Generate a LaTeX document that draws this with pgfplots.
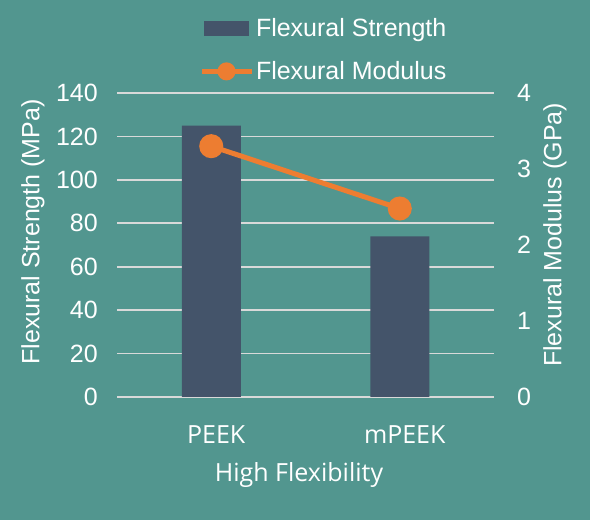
\documentclass[border=0pt]{standalone}
\usepackage{pgfplots}
\pgfplotsset{compat=1.18}
\usepackage{fontspec}
\setmainfont{Liberation Sans}
\newfontfamily\segoe{Open Sans}
\definecolor{bg}{HTML}{52968F}
\definecolor{barc}{HTML}{44546A}
\definecolor{linec}{HTML}{ED7D31}
\definecolor{gridc}{HTML}{D9D9D9}
\newcommand{\fs}{\fontsize{25bp}{30bp}\selectfont}
\begin{document}
\begin{tikzpicture}
\fill[bg] (0bp,0bp) rectangle (590bp,520bp);
\path[use as bounding box] (0bp,0bp) rectangle (590bp,520bp);
\begin{axis}[
  at={(117bp,123bp)}, anchor=south west,
  scale only axis, width=377bp, height=304bp,
  xmin=-0.5, xmax=1.5, ymin=0, ymax=140,
  ytick={0,20,...,140},
  xtick={0,1}, xticklabels={PEEK,mPEEK},
  axis line style={draw=none}, major tick style={draw=none},
  ymajorgrids, grid style={color=gridc, line width=1.6bp},
  ybar, bar width=59bp,
  /pgf/number format/assume math mode=true,
  ticklabel style={font=\fs, text=white},
  yticklabel style={inner sep=0pt, xshift=-19bp},
  xticklabel style={inner sep=0pt, yshift=-24bp, xshift=5bp, font=\segoe\fs},
  ylabel={Flexural Strength (MPa)},
  ylabel style={at={(axis description cs:-0.2228,0.5428)}, anchor=center, font=\fs, text=white, inner sep=0pt},
  xlabel={High Flexibility},
  xlabel style={at={(axis description cs:0.4828,-0.2566)}, anchor=center, font=\segoe\fs, text=white, inner sep=0pt},
]
\addplot[fill=barc, draw=none] coordinates {(0,125) (1,74)};
\end{axis}
\begin{axis}[
  at={(117bp,123bp)}, anchor=south west,
  scale only axis, width=377bp, height=304bp,
  xmin=-0.5, xmax=1.5, ymin=0, ymax=4,
  ytick={0,1,2,3,4},
  axis x line=none, axis y line*=right,
  axis line style={draw=none}, major tick style={draw=none},
  /pgf/number format/assume math mode=true,
  ticklabel style={font=\fs, text=white},
  yticklabel style={inner sep=0pt, xshift=23bp},
  ylabel={Flexural Modulus (GPa)},
  ylabel style={at={(axis description cs:1.1618,0.533)}, anchor=center, rotate=0, font=\fs, text=white, inner sep=0pt},
  legend style={at={(axis description cs:0.217,1.254)}, anchor=north west, draw=none, fill=none,
    font=\fs, text=white, row sep=20bp, inner sep=0pt},
  legend cell align=left,
]
\addlegendimage{legend image code/.code={\fill[barc] (3bp,-7bp) rectangle (47bp,7bp);}}
\addlegendentry{Flexural Strength}
\addplot[color=linec, line width=5bp, mark=*, mark size=9.5bp, mark options={fill=linec, draw=none},
  legend image code/.code={\draw[linec, line width=5bp] (0bp,0bp) -- (50bp,0bp); \fill[linec] (25bp,0bp) circle (6.5bp);}]
  coordinates {(0,3.3) (1,2.48)};
\addlegendentry{Flexural Modulus}
\end{axis}
\end{tikzpicture}
\end{document}
